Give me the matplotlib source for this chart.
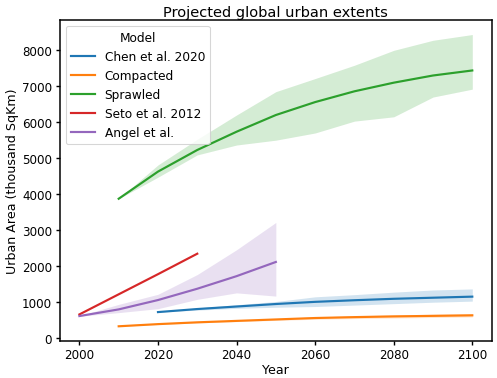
import matplotlib
matplotlib.use("Agg")
import matplotlib.pyplot as plt
import numpy as np

# series
chen_years = [2020, 2030, 2040, 2050, 2060, 2070, 2080, 2090, 2100]
chen = [715, 800, 870, 940, 1000, 1045, 1085, 1115, 1145]
chen_lo = [715, 770, 820, 850, 870, 910, 950, 990, 1020]
chen_hi = [715, 830, 920, 1010, 1140, 1200, 1270, 1330, 1360]

comp_years = [2010, 2020, 2030, 2040, 2050, 2060, 2070, 2080, 2090, 2100]
comp = [320, 380, 430, 470, 510, 550, 575, 595, 610, 625]
comp_lo = [320, 370, 415, 450, 485, 515, 535, 550, 565, 580]
comp_hi = [320, 390, 445, 490, 535, 580, 610, 635, 655, 670]

sprawl_years = [2010, 2020, 2030, 2040, 2050, 2060, 2070, 2080, 2090, 2100]
sprawl = [3870, 4625, 5227, 5735, 6200, 6560, 6860, 7100, 7300, 7440]
sprawl_lo = [3870, 4470, 5090, 5365, 5500, 5700, 6030, 6150, 6700, 6920]
sprawl_hi = [3870, 4810, 5525, 6200, 6850, 7215, 7585, 8000, 8280, 8440]

seto_years = [2000, 2010, 2020, 2030]
seto = [650, 1210, 1770, 2340]

angel_years = [2000, 2010, 2020, 2030, 2040, 2050]
angel = [605, 790, 1050, 1365, 1715, 2110]
angel_lo = [600, 700, 810, 1070, 1250, 1160]
angel_hi = [610, 930, 1210, 1760, 2450, 3210]

plt.rcParams['font.size'] = 11
plt.rcParams['axes.linewidth'] = 1.4
plt.rcParams['xtick.major.width'] = 1.3
plt.rcParams['ytick.major.width'] = 1.3

fig = plt.figure(figsize=(6.4, 4.87), dpi=77.8)
ax = fig.add_subplot(111)
fig.subplots_adjust(left=0.12, right=0.988, bottom=0.098, top=0.945)

c = plt.rcParams['axes.prop_cycle'].by_key()['color']
lw = 2.0

ax.plot(chen_years, chen, color=c[0], lw=lw, label="Chen et al. 2020")
ax.fill_between(chen_years, chen_lo, chen_hi, color=c[0], alpha=0.2, lw=0)
ax.plot(comp_years, comp, color=c[1], lw=lw, label="Compacted")
ax.fill_between(comp_years, comp_lo, comp_hi, color=c[1], alpha=0.2, lw=0)
ax.plot(sprawl_years, sprawl, color=c[2], lw=lw, label="Sprawled")
ax.fill_between(sprawl_years, sprawl_lo, sprawl_hi, color=c[2], alpha=0.2, lw=0)
ax.plot(seto_years, seto, color=c[3], lw=lw, label="Seto et al. 2012")
ax.plot(angel_years, angel, color=c[4], lw=lw, label="Angel et al.")
ax.fill_between(angel_years, angel_lo, angel_hi, color=c[4], alpha=0.2, lw=0)

ax.set_title("Projected global urban extents", fontsize=13.5, pad=4)
ax.set_xlabel("Year", fontsize=11.7, labelpad=2)
ax.set_ylabel("Urban Area (thousand SqKm)", fontsize=11.7, labelpad=3)
ax.set_xticks([2000, 2020, 2040, 2060, 2080, 2100])
ax.legend(title="Model", loc="upper left", fontsize=11.2, title_fontsize=11.2)

fig.savefig("out.png", dpi=77.8)
